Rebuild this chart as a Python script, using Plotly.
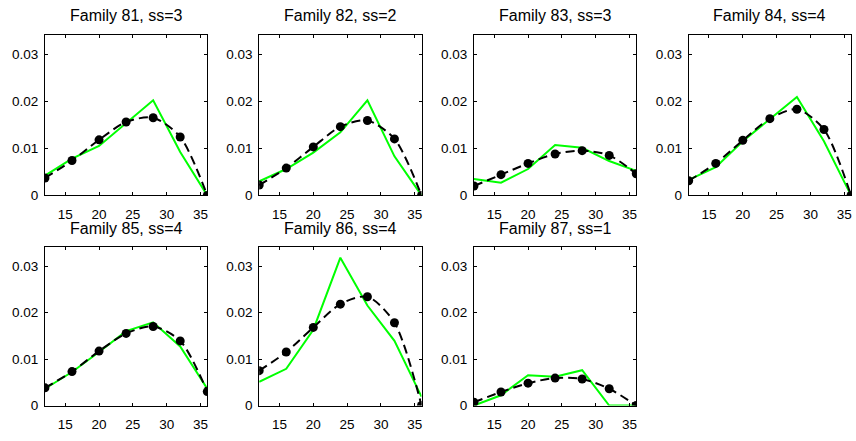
import plotly.graph_objects as go

# Age classes shared by every family
ages = [12, 16, 20, 24, 28, 32, 36]

titles = [
    "Family 81, ss=3", "Family 82, ss=2", "Family 83, ss=3", "Family 84, ss=4",
    "Family 85, ss=4", "Family 86, ss=4", "Family 87, ss=1",
]

# Observed frequencies (green)
obs_81 = [0.0042, 0.0078, 0.0105, 0.0154, 0.0202, 0.0092, 0.0]
obs_82 = [0.0030, 0.0056, 0.0091, 0.0134, 0.0202, 0.0083, 0.0]
obs_83 = [0.0035, 0.0027, 0.0056, 0.0107, 0.0101, 0.0073, 0.0052]
obs_84 = [0.0033, 0.0060, 0.0115, 0.0161, 0.0209, 0.0115, 0.0]
obs_85 = [0.0036, 0.0072, 0.0115, 0.0160, 0.0179, 0.0127, 0.0036]
obs_86 = [0.0051, 0.0079, 0.0163, 0.0318, 0.0215, 0.0139, 0.0019]
obs_87 = [0.0, 0.0022, 0.0065, 0.0062, 0.0076, 0.0, 0.0]

# Fitted curve (black dashed with dots)
fit_81 = [0.0037, 0.0074, 0.0118, 0.0156, 0.0165, 0.0124, 0.0]
fit_82 = [0.0022, 0.0058, 0.0103, 0.0146, 0.0159, 0.0120, 0.0]
fit_83 = [0.0020, 0.0044, 0.0068, 0.0088, 0.0095, 0.0085, 0.0046]
fit_84 = [0.0031, 0.0068, 0.0117, 0.0163, 0.0183, 0.0140, 0.0]
fit_85 = [0.0038, 0.0073, 0.0117, 0.0155, 0.0170, 0.0139, 0.0030]
fit_86 = [0.0075, 0.0115, 0.0168, 0.0218, 0.0234, 0.0178, 0.0]
fit_87 = [0.0007, 0.0029, 0.0048, 0.0059, 0.0057, 0.0036, 0.0]

observed = [obs_81, obs_82, obs_83, obs_84, obs_85, obs_86, obs_87]
fitted = [fit_81, fit_82, fit_83, fit_84, fit_85, fit_86, fit_87]

x_ticks = [15, 20, 25, 30, 35]
y_ticks = [0, 0.01, 0.02, 0.03]
y_tick_text = ["0", "0.01", "0.02", "0.03"]

W, H = 856, 441
col_px = [(45, 207.5), (259.5, 422), (474.5, 637), (689.5, 852)]
row_px = [(36, 199), (252, 413)]
title_y_px = [15.5, 233]

FONT = "Liberation Sans, Arial, Helvetica, sans-serif"

fig = go.Figure()
layout = dict(
    width=W, height=H,
    margin=dict(l=0, r=0, t=0, b=0),
    paper_bgcolor="white", plot_bgcolor="white",
    showlegend=False,
    font=dict(family=FONT, size=13, color="black"),
)
annotations = []

for i, (obs, fit) in enumerate(zip(observed, fitted)):
    r, c = divmod(i, 4)
    n = i + 1
    xa = "x" if n == 1 else f"x{n}"
    ya = "y" if n == 1 else f"y{n}"

    fig.add_trace(go.Scatter(
        x=ages, y=obs, mode="lines", xaxis=xa, yaxis=ya,
        line=dict(color="#00ff00", width=2),
    ))
    fig.add_trace(go.Scatter(
        x=ages, y=fit, mode="lines+markers", xaxis=xa, yaxis=ya,
        line=dict(color="black", width=2, dash="9px,5px", shape="spline", smoothing=0.8),
        marker=dict(color="black", size=9),
    ))

    x0, x1 = col_px[c]
    y0, y1 = row_px[r]
    axis_common = dict(
        showline=True, linecolor="black", linewidth=1, mirror="allticks",
        ticks="inside", ticklen=3, tickcolor="black", tickwidth=1,
        showgrid=False, zeroline=False,
        tickfont=dict(family=FONT, size=13.5, color="black"),
    )
    layout["xaxis" if n == 1 else f"xaxis{n}"] = dict(
        axis_common, domain=[x0 / W, x1 / W], range=[12, 36],
        tickvals=x_ticks, anchor=ya, ticklabelstandoff=6,
    )
    layout["yaxis" if n == 1 else f"yaxis{n}"] = dict(
        axis_common, domain=[1 - y1 / H, 1 - y0 / H], range=[0, 0.034],
        tickvals=y_ticks, ticktext=y_tick_text, anchor=xa, ticklabelstandoff=3,
    )
    annotations.append(dict(
        text=titles[i], xref="paper", yref="paper",
        x=(x0 + x1) / 2 / W, y=1 - title_y_px[r] / H,
        xanchor="center", yanchor="middle", showarrow=False,
        font=dict(family=FONT, size=16, color="black"),
    ))

layout["annotations"] = annotations
fig.update_layout(**layout)
fig.write_html("out.html")
